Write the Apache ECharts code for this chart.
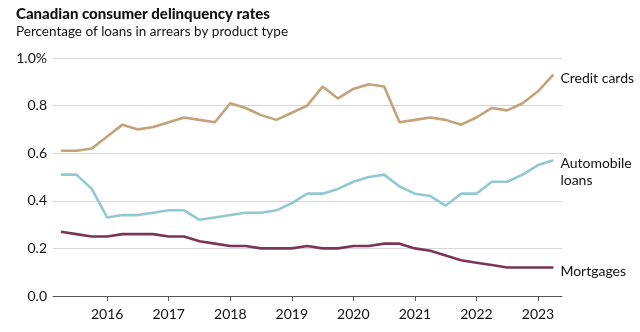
<!DOCTYPE html>
<html><head><meta charset="utf-8">
<script src="https://cdn.jsdelivr.net/npm/echarts@6/dist/echarts.min.js"></script>
<style>html,body{margin:0;padding:0;background:#fff}#c{width:640px;height:332px}</style>
</head><body><div id="c"></div>
<script>
// Quarterly points, 2015 Q2 .. 2023 Q2 (x = year + quarter offset)
const startYear = 2015.25;
const nPoints = 33;
const quarters = Array.from({length: nPoints}, (_, i) => startYear + i * 0.25);
const creditCards = [0.61,0.61,0.62,0.67,0.72,0.70,0.71,0.73,0.75,0.74,0.73,0.81,0.79,0.76,0.74,0.77,0.80,0.88,0.83,0.87,0.89,0.88,0.73,0.74,0.75,0.74,0.72,0.75,0.79,0.78,0.81,0.86,0.93];
const autoLoans = [0.51,0.51,0.45,0.33,0.34,0.34,0.35,0.36,0.36,0.32,0.33,0.34,0.35,0.35,0.36,0.39,0.43,0.43,0.45,0.48,0.50,0.51,0.46,0.43,0.42,0.38,0.43,0.43,0.48,0.48,0.51,0.55,0.57];
const mortgages = [0.27,0.26,0.25,0.25,0.26,0.26,0.26,0.25,0.25,0.23,0.22,0.21,0.21,0.20,0.20,0.20,0.21,0.20,0.20,0.21,0.21,0.22,0.22,0.20,0.19,0.17,0.15,0.14,0.13,0.12,0.12,0.12,0.12];
const yearTicks = [2016,2017,2018,2019,2020,2021,2022,2023];

const FONT = 'Lato, "Open Sans", sans-serif';
const pair = arr => arr.map((v, i) => [quarters[i], v]);

function mk(name, data, color, labelText, offY) {
  return {
    name, type: 'line', data: pair(data), showSymbol: false, symbol: 'none',
    lineStyle: {color, width: 2.6}, itemStyle: {color},
    emphasis: {disabled: true}, animation: false,
    endLabel: {show: true, formatter: labelText, color: '#111', fontFamily: FONT, fontSize: 14,
      distance: 7, offset: [0, offY], lineHeight: 17, align: 'left'}
  };
}

const chart = echarts.init(document.getElementById('c'), null, {renderer: 'canvas'});
chart.setOption({
  animation: false,
  title: [
    {text: 'Canadian consumer delinquency rates', left: 16, top: 7, padding: 0,
     textStyle: {fontFamily: FONT, fontWeight: 900, fontSize: 15, color: '#111'}},
    {text: 'Percentage of loans in arrears by product type', left: 16, top: 25, padding: 0,
     textStyle: {fontFamily: FONT, fontWeight: 'normal', fontSize: 13.5, color: '#111'}}
  ],
  grid: {left: 53, right: 78, top: 58, bottom: 36, containLabel: false},
  xAxis: {
    type: 'value', min: 2015.12, max: 2023.39,
    axisLine: {show: true, lineStyle: {color: '#555', width: 1}},
    axisTick: {show: true, length: 5, lineStyle: {color: '#555'}, customValues: yearTicks},
    axisLabel: {customValues: yearTicks, formatter: v => String(Math.round(v)), color: '#111',
      fontFamily: FONT, fontSize: 14, margin: 11},
    splitLine: {show: false}
  },
  yAxis: {
    type: 'value', min: 0, max: 1, interval: 0.2,
    axisLine: {show: false}, axisTick: {show: false},
    axisLabel: {formatter: v => v === 1 ? '1.0%' : v.toFixed(1), color: '#111',
      fontFamily: FONT, fontSize: 14, margin: 6},
    splitLine: {lineStyle: {color: '#d6d6d6', width: 1}}
  },
  series: [
    mk('Credit cards', creditCards, '#c4a27a', 'Credit cards', 4),
    mk('Automobile loans', autoLoans, '#93c8d3', 'Automobile\nloans', 12),
    mk('Mortgages', mortgages, '#7b3657', 'Mortgages', 4)
  ]
});
</script></body></html>
